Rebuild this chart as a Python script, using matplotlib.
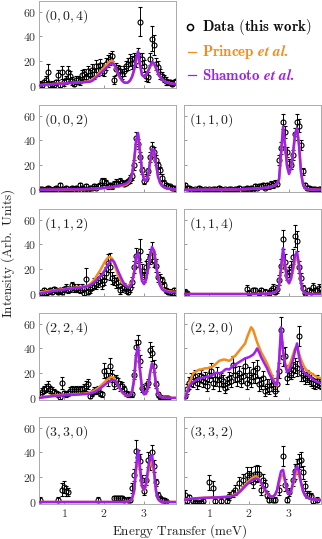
import numpy as np
import matplotlib
matplotlib.use("Agg")
import matplotlib.pyplot as plt
from matplotlib.lines import Line2D

plt.rcParams["font.family"] = "serif"
plt.rcParams["font.serif"] = ["cmr10"]
plt.rcParams["mathtext.fontset"] = "cm"
plt.rcParams["axes.formatter.use_mathtext"] = True

ORANGE = "#f28c1a"
PURPLE = "#a020f0"
n = np.nan

# energy grid shared by data and calculations (meV), 0.05 meV steps
energy = np.linspace(0.4, 3.8, 69)

# ---- (0,0,4)
q004_data = [2, 1, 3, 5, 11, 1, 2, 1, 3, 9,
             1, 11, 3, 5, 11, 8, 4, 2, 5, 5,
             4, 9, 10, 7, 12, 9, 13, 10, 16, 13,
             17, 14, 12, 18, 20, 22, 24, 5, 14, 13,
             12, 10, 12, 16, 18, 21, 19, 22, 20, 25,
             52, 22, 16, 8, 7, 22, 38, 33, 18, 15,
             10, 8, 6, 4, 3, 3, 2, 3, 4]
q004_err = [2, 2, 2, 3, 7, 2, 2, 2, 2, 4,
            2, 5, 3, 3, 5, 4, 3, 2, 3, 3,
            3, 4, 4, 3, 4, 4, 5, 4, 5, 5,
            5, 5, 4, 5, 5, 5, 4, 3, 5, 4,
            4, 4, 4, 4, 5, 5, 5, 5, 5, 6,
            12, 5, 5, 4, 4, 5, 10, 8, 5, 5,
            4, 3, 3, 3, 2, 2, 2, 2, 2]
q004_princep = [0.8, 1.0, 1.2, 1.4, 1.5, 1.6, 1.7, 1.8, 1.9, 2.0,
                2.1, 2.2, 2.3, 2.4, 2.5, 2.6, 2.7, 2.8, 2.9, 3.0,
                3.1, 3.2, 3.3, 3.5, 3.8, 4.3, 5.2, 6.5, 8.0, 9.8,
                11.5, 13.2, 15.0, 16.8, 18.5, 20.0, 20.5, 17.5, 13.5, 9.5,
                6.5, 4.3, 3.0, 2.7, 3.1, 4.6, 7.5, 12.5, 20.0, 25.0,
                16.5, 9.0, 7.5, 9.0, 12.0, 15.5, 18.5, 17.5, 14.0, 10.5,
                7.5, 5.5, 4.2, 3.3, 2.7, 2.3, 2.0, 1.8, 1.6]
q004_shamoto = [0.5, 0.8, 1.0, 1.2, 1.4, 1.5, 1.6, 1.7, 1.8, 1.9,
                2.0, 2.1, 2.2, 2.3, 2.4, 2.5, 2.6, 2.7, 2.8, 2.9,
                3.0, 3.1, 3.2, 3.3, 3.4, 3.6, 4.2, 5.5, 7.0, 8.5,
                10.0, 11.5, 13.0, 14.5, 16.0, 17.5, 18.5, 17.5, 14.5, 10.5,
                7.0, 4.5, 3.0, 2.6, 3.0, 4.5, 7.5, 13.0, 22.0, 28.0,
                17.0, 9.0, 7.5, 9.0, 12.0, 16.0, 19.5, 18.5, 14.5, 10.5,
                7.5, 5.5, 4.2, 3.3, 2.7, 2.3, 2.0, 1.8, 1.6]

# ---- (0,0,2)
q002_data = [1, 1, 0, 1, 2, 1, 0, 1, 2, 1,
             4, 1, 1, 2, 0, 1, 2, 1, 2, 1,
             4, 2, 1, 3, 1, 2, 2, 3, 2, 3,
             4, 7, 7, 6, 3, 4, 3, 5, 6, 5,
             7, 6, 5, 6, 7, 9, 11, 20, 42, 37,
             27, 16, 7, 10, 15, 27, 34, 31, 24, 20,
             16, 10, 6, 4, 3, 3, 2, 2, 1]
q002_err = [1, 1, 1, 1, 1, 1, 1, 1, 1, 1,
            2, 1, 1, 1, 1, 1, 1, 1, 1, 1,
            2, 1, 1, 2, 1, 1, 1, 2, 1, 2,
            2, 3, 3, 2, 2, 2, 2, 2, 3, 2,
            3, 2, 2, 2, 2, 3, 3, 4, 5, 4,
            4, 3, 2, 3, 3, 4, 5, 4, 4, 3,
            3, 3, 2, 2, 2, 1, 1, 1, 1]
q002_princep = [0.2, 0.2, 0.2, 0.2, 0.3, 0.3, 0.3, 0.3, 0.3, 0.4,
                0.4, 0.4, 0.4, 0.5, 0.5, 0.5, 0.5, 0.6, 0.6, 0.6,
                0.7, 0.7, 0.7, 0.8, 0.8, 0.9, 0.9, 1.0, 1.1, 1.2,
                1.3, 1.4, 1.5, 1.7, 1.9, 2.1, 2.3, 2.5, 2.7, 3.0,
                3.2, 3.5, 3.9, 4.4, 5.5, 7.5, 12.0, 22.0, 38.0, 45.0,
                31.0, 16.0, 8.5, 7.5, 11.5, 22.0, 32.0, 31.5, 21.0, 11.0,
                6.0, 3.5, 2.3, 1.6, 1.2, 1.0, 0.8, 0.7, 0.6]
q002_shamoto = [0.3, 0.3, 0.3, 0.3, 0.4, 0.4, 0.4, 0.4, 0.5, 0.5,
                0.5, 0.5, 0.6, 0.6, 0.6, 0.6, 0.7, 0.7, 0.7, 0.8,
                0.8, 0.8, 0.9, 0.9, 1.0, 1.0, 1.1, 1.2, 1.3, 1.4,
                1.5, 1.6, 1.8, 2.0, 2.2, 2.4, 2.6, 2.9, 3.2, 3.5,
                3.8, 4.2, 4.7, 5.3, 6.5, 8.5, 13.0, 24.0, 40.0, 46.0,
                30.0, 15.0, 8.0, 7.5, 12.0, 23.0, 33.0, 32.0, 21.0, 11.0,
                6.0, 3.5, 2.3, 1.6, 1.2, 1.0, 0.8, 0.7, 0.6]

# ---- (1,1,0)
q110_data = [4, 2, 2, 1, n, 1, 0, 2, 1, n,
             1, 0, 1, n, 1, 1, 0, 2, 1, n,
             1, 0, 1, 1, 0, 1, 1, 2, n, 1,
             1, 2, 1, 2, 1, 3, 2, 3, 3, 4,
             2, 4, 3, 5, 4, 6, 5, 24, 34, 55,
             47, 31, 22, 20, 28, 45, 55, 52, 36, 15,
             4, 2, 2, 1, 1, 1, 0, 1, 1]
q110_err = [2, 1, 1, 1, 1, 1, 1, 1, 1, 1,
            1, 1, 1, 1, 1, 1, 1, 1, 1, 1,
            1, 1, 1, 1, 1, 1, 1, 1, 1, 1,
            1, 1, 1, 1, 1, 2, 1, 2, 2, 2,
            1, 2, 2, 2, 2, 2, 2, 4, 5, 6,
            5, 4, 3, 3, 4, 5, 6, 5, 4, 3,
            2, 1, 1, 1, 1, 1, 1, 1, 1]
q110_princep = [0.2, 0.2, 0.2, 0.2, 0.2, 0.2, 0.3, 0.3, 0.3, 0.3,
                0.3, 0.3, 0.3, 0.3, 0.4, 0.4, 0.4, 0.4, 0.4, 0.4,
                0.5, 0.5, 0.5, 0.5, 0.6, 0.6, 0.6, 0.7, 0.7, 0.8,
                0.8, 0.9, 0.9, 1.0, 1.1, 1.2, 1.3, 1.4, 1.5, 1.7,
                1.8, 2.0, 2.3, 2.7, 3.2, 3.9, 5.3, 8.5, 28.0, 49.0,
                37.0, 20.0, 13.5, 18.0, 29.0, 44.0, 49.0, 37.0, 15.0, 5.0,
                1.8, 1.0, 0.7, 0.5, 0.4, 0.4, 0.3, 0.3, 0.3]
q110_shamoto = [0.2, 0.2, 0.2, 0.2, 0.2, 0.2, 0.3, 0.3, 0.3, 0.3,
                0.3, 0.3, 0.3, 0.3, 0.4, 0.4, 0.4, 0.4, 0.4, 0.4,
                0.5, 0.5, 0.5, 0.5, 0.6, 0.6, 0.6, 0.7, 0.7, 0.8,
                0.8, 0.9, 0.9, 1.0, 1.1, 1.2, 1.3, 1.4, 1.5, 1.7,
                1.9, 2.1, 2.4, 2.8, 3.3, 4.0, 5.5, 9.0, 30.0, 51.0,
                36.0, 19.0, 13.0, 18.0, 30.0, 45.0, 50.0, 36.0, 14.0, 4.5,
                1.8, 1.0, 0.7, 0.5, 0.4, 0.4, 0.3, 0.3, 0.3]

# ---- (1,1,2)
q112_data = [1, 1, 3, 1, 2, 3, 2, 4, 3, 2,
             3, 2, 4, 5, 3, 4, 7, 5, 4, 5,
             3, 5, 1, 12, 2, 4, 6, 9, 8, 10,
             13, 8, 11, 17, 25, 22, 13, 11, 9, 10,
             3, 5, 6, 4, 2, 5, 10, 22, 31, 28,
             35, 19, 14, 22, 27, 30, 34, 27, 23, 14,
             12, 11, 7, 3, 2, 2, 1, 3, 1]
q112_err = [2, 2, 2, 2, 2, 2, 2, 2, 2, 2,
            2, 2, 2, 3, 2, 2, 3, 3, 2, 3,
            2, 3, 2, 9, 2, 3, 3, 4, 4, 4,
            4, 4, 4, 5, 7, 11, 5, 4, 4, 4,
            3, 3, 3, 3, 2, 3, 4, 5, 6, 6,
            9, 5, 4, 5, 5, 6, 8, 5, 5, 4,
            4, 3, 3, 2, 2, 2, 2, 2, 2]
q112_princep = [1.5, 1.8, 2.0, 2.3, 2.5, 2.7, 2.9, 3.1, 3.3, 3.5,
                3.7, 3.9, 4.1, 4.3, 4.5, 4.7, 4.9, 5.1, 5.3, 5.5,
                5.7, 5.9, 6.1, 6.4, 7.0, 8.0, 9.5, 11.5, 14.0, 16.5,
                19.0, 22.0, 25.0, 27.5, 29.5, 30.0, 28.5, 25.0, 20.0, 15.5,
                12.0, 9.5, 8.0, 7.0, 6.5, 7.0, 10.0, 18.0, 29.0, 31.0,
                20.0, 11.0, 9.0, 12.0, 20.0, 30.0, 36.0, 34.0, 24.0, 14.0,
                8.0, 5.0, 3.5, 2.8, 2.4, 2.2, 2.0, 1.9, 1.8]
q112_shamoto = [0.5, 0.8, 1.1, 1.4, 1.7, 2.0, 2.3, 2.6, 2.9, 3.1,
                3.3, 3.5, 3.7, 3.9, 4.1, 4.3, 4.5, 4.7, 4.9, 5.1,
                5.3, 5.5, 5.7, 6.0, 6.5, 7.2, 8.2, 9.5, 11.0, 12.5,
                14.0, 16.0, 18.5, 21.0, 24.0, 26.5, 27.5, 26.0, 22.5, 18.5,
                15.0, 11.5, 8.5, 6.5, 5.5, 6.0, 9.0, 17.0, 30.0, 33.0,
                21.0, 10.5, 8.0, 11.5, 20.0, 31.0, 38.0, 35.0, 24.0, 13.0,
                7.0, 4.0, 2.8, 2.2, 1.9, 1.7, 1.6, 1.5, 1.4]

# ---- (1,1,4)
q114_data = ([2, 1] + [n] * 28
             + [n, 4, 1, n, 3, 3, n, 1, 3, n,
                2, n, 1, 3, 5, 2, 4, 11, 23, 44,
                26, 15, 18, 22, 30, 47, 43, 22, 13, 5,
                1, n, 3, 2, 6, 3, 3, 5, 4])
q114_err = ([2, 1] + [0] * 28
            + [0, 3, 2, 0, 2, 2, 0, 2, 2, 0,
               2, 0, 2, 2, 3, 2, 3, 4, 5, 8,
               6, 4, 4, 5, 6, 9, 8, 5, 4, 2,
               1, 0, 2, 2, 3, 2, 2, 3, 2])
q114_princep = ([0.1] * 36
                + [0.2, 0.2, 0.2, 0.3,
                   0.3, 0.4, 0.5, 0.7, 1.0, 1.5, 2.8, 6.5, 19.0, 32.0,
                   22.0, 11.0, 8.5, 12.0, 19.0, 27.0, 30.0, 22.0, 9.0, 2.5,
                   0.8, 0.3, 0.2, 0.1, 0.1, 0.1, 0.1, 0.1, 0.1])
q114_shamoto = ([0.1] * 36
                + [0.2, 0.2, 0.2, 0.3,
                   0.3, 0.4, 0.5, 0.7, 1.0, 1.6, 3.0, 7.0, 22.0, 37.0,
                   24.0, 12.0, 9.0, 13.0, 22.0, 31.0, 34.0, 24.0, 9.0, 2.5,
                   0.8, 0.3, 0.2, 0.1, 0.1, 0.1, 0.1, 0.1, 0.1])

# ---- (2,2,4)
q224_data = [3, 5, 7, 8, 10, 7, 6, 5, 4, 3,
             1, 12, 4, 3, 4, 6, 7, 6, 7, 6,
             7, 7, 8, 10, 11, 2, 4, 6, 6, 7,
             4, 3, 22, 19, 15, 26, 18, 11, 15, 12,
             10, 10, 7, 4, 3, 3, 3, 19, 41, 45,
             30, 8, 6, 9, 12, 39, 36, 26, 11, 3,
             1, 0, 0, 0, 0, n, n, n, n]
q224_err = [2, 3, 3, 3, 4, 3, 3, 2, 2, 2,
            2, 5, 2, 2, 2, 3, 3, 3, 3, 3,
            3, 3, 3, 4, 4, 2, 2, 3, 3, 3,
            2, 2, 6, 5, 5, 6, 5, 4, 4, 4,
            4, 3, 3, 2, 2, 2, 2, 4, 6, 6,
            5, 3, 2, 3, 3, 6, 6, 5, 3, 2,
            1, 1, 1, 1, 1, 0, 0, 0, 0]
q224_princep = [0.8, 1.0, 1.2, 1.4, 1.6, 1.8, 2.0, 2.1, 2.2, 2.3,
                2.4, 2.5, 2.6, 2.7, 2.8, 2.9, 3.0, 3.1, 3.2, 3.3,
                3.4, 3.5, 3.7, 3.9, 4.2, 4.6, 5.2, 6.0, 7.0, 8.2,
                9.5, 11.0, 12.5, 14.0, 15.5, 16.5, 17.0, 16.0, 13.5, 10.0,
                7.0, 4.5, 3.0, 2.2, 2.0, 2.5, 5.0, 14.0, 33.0, 40.0,
                22.0, 8.0, 3.5, 4.0, 9.0, 20.0, 28.0, 24.0, 11.0, 4.0,
                1.5, 0.7, 0.4, 0.3, 0.2, 0.2, 0.2, 0.2, 0.2]
q224_shamoto = [0.3, 0.5, 0.7, 0.9, 1.1, 1.3, 1.5, 1.7, 1.8, 1.9,
                2.0, 2.1, 2.2, 2.3, 2.4, 2.5, 2.6, 2.7, 2.8, 2.9,
                3.0, 3.1, 3.2, 3.3, 3.5, 3.8, 4.2, 4.8, 5.6, 6.6,
                7.8, 9.0, 10.3, 11.6, 12.8, 13.8, 14.5, 14.3, 12.8, 10.3,
                7.6, 5.2, 3.5, 2.4, 2.0, 2.4, 5.0, 15.0, 35.0, 41.0,
                22.0, 7.5, 3.0, 3.5, 9.0, 20.0, 28.0, 24.0, 10.5, 3.5,
                1.2, 0.5, 0.3, 0.2, 0.2, 0.2, 0.2, 0.2, 0.2]

# ---- (2,2,0)
q220_data = [2, 7, 12, 15, 14, 18, 12, 15, 18, 14,
             16, 10, 19, 22, 12, 15, 19, 11, 15, 14,
             8, 12, 16, 14, 27, 19, 15, 20, 14, 18,
             26, 12, 19, 14, 22, 18, 24, 11, 12, 16,
             6, 10, 7, 14, 11, 6, 11, 22, 55, 33,
             34, 16, 22, 20, 23, 26, 24, 50, 20, 19,
             16, 18, 16, 15, 12, 11, 14, 12, 11]
q220_err = [2, 4, 5, 5, 5, 5, 5, 5, 5, 5,
            5, 4, 6, 6, 5, 5, 6, 5, 5, 5,
            4, 5, 5, 5, 7, 6, 5, 6, 5, 6,
            6, 5, 6, 5, 7, 6, 7, 5, 5, 6,
            4, 5, 4, 5, 5, 4, 5, 6, 10, 7,
            7, 5, 5, 5, 6, 6, 6, 8, 6, 5,
            5, 5, 5, 5, 4, 4, 5, 4, 4]
q220_princep = [0, 5, 11, 16, 20, 21, 22, 23, 23, 23.5,
                24, 24, 24.5, 25, 25.5, 27, 28.5, 30, 30.5, 31,
                31, 30.5, 30, 31, 33, 34, 36, 38, 40, 42,
                44, 49, 53, 57, 55, 50, 45, 41, 37, 34,
                31, 28, 24, 20, 16, 12, 10, 28, 53, 38,
                28, 24, 26, 30, 35, 40, 41, 36, 31, 27,
                24, 22, 21, 20, 19, 18, 17, 16.5, 16]
q220_shamoto = [0, 5, 9, 12, 13, 14, 15, 16, 16, 16.5,
                17, 17, 17.5, 18, 19, 20, 20.5, 20, 20.5, 21.5,
                23, 23.5, 23, 24.5, 26, 27, 28, 29, 30, 31,
                32, 32.5, 33, 34, 35, 37, 40, 37, 33, 30,
                27, 24, 20, 17, 14, 12, 11, 30, 57, 38,
                27, 21, 22, 26, 31, 38, 44, 33, 26, 22,
                20, 19, 18, 16.5, 15, 14, 13, 12.5, 12]

# ---- (3,3,0)
q330_data = ([2] + [n] * 8 + [2]
             + [n, 10, 12, 9, 8, n, n, n, n, n]
             + [n] * 9 + [2]
             + [n] * 7 + [3, 3, 3]
             + [3, 3, 2, n, 2, 2, 11, 22, 41, 36,
                33, 18, 9, 18, 34, 32, 40, 29, 16, 6,
                3, 2, 2, 1, n, n, n, n, n])
q330_err = ([2] + [0] * 8 + [2]
            + [0, 5, 5, 4, 3, 0, 0, 0, 0, 0]
            + [0] * 9 + [2]
            + [0] * 7 + [2, 2, 2]
            + [2, 2, 2, 0, 2, 2, 4, 5, 9, 6,
               6, 4, 3, 4, 6, 6, 6, 5, 3, 2,
               1, 1, 1, 1, 0, 0, 0, 0, 0])
q330_princep = ([0.1] * 42
                + [0.2, 0.3, 0.6, 1.1, 2.8, 8.0, 25.0, 36.0,
                   25.0, 12.0, 9.5, 13.0, 23.0, 31.0, 33.0, 23.0, 8.5, 2.5,
                   0.8, 0.3, 0.1, 0.1, 0.1, 0.1, 0.1, 0.1, 0.1])
q330_shamoto = ([0.1] * 42
                + [0.2, 0.3, 0.6, 1.2, 3.0, 9.0, 28.0, 42.0,
                   28.0, 13.0, 10.0, 15.0, 27.0, 36.0, 38.0, 26.0, 9.0, 2.5,
                   0.8, 0.3, 0.1, 0.1, 0.1, 0.1, 0.1, 0.1, 0.1])

# ---- (3,3,2)
q332_data = [6, 1, 4, n, 1, 0, 0, n, 0, 1,
             n, n, 16, n, 11, 1, n, n, 1, n,
             n, 1, 5, n, 7, 10, n, 15, n, 18,
             n, 22, 20, 22, 16, 23, 23, 23, 10, 18,
             14, 6, 2, n, 2, 2, n, 10, n, 37,
             14, 2, 8, n, 18, 25, 29, 33, 34, 24,
             13, 6, 6, 5, 1, n, 2, n, n]
q332_err = [4, 2, 2, 0, 2, 1, 1, 0, 1, 2,
            0, 0, 6, 0, 6, 2, 0, 0, 2, 0,
            0, 2, 3, 0, 3, 4, 0, 5, 0, 5,
            0, 6, 5, 6, 5, 6, 7, 6, 4, 5,
            4, 3, 2, 0, 2, 2, 0, 4, 0, 8,
            5, 2, 3, 0, 5, 6, 6, 6, 6, 5,
            4, 3, 3, 2, 2, 0, 2, 0, 0]
q332_princep = [2.2, 2.4, 2.6, 2.8, 3.0, 3.1, 3.2, 3.3, 3.4, 3.5,
                3.6, 3.6, 3.7, 3.7, 3.8, 3.8, 3.9, 4.0, 4.1, 4.2,
                4.3, 4.5, 4.7, 5.0, 5.5, 6.2, 7.2, 8.6, 10.2, 12.0,
                13.8, 15.5, 17.2, 18.8, 20.0, 20.8, 20.5, 18.5, 15.5, 12.0,
                9.0, 6.8, 5.2, 4.4, 4.5, 5.8, 9.0, 15.0, 21.0, 22.0,
                16.0, 8.5, 6.5, 8.5, 14.0, 21.0, 25.0, 22.0, 15.0, 8.5,
                5.2, 3.7, 3.0, 2.5, 2.2, 2.0, 1.9, 1.8, 1.7]
q332_shamoto = [2.0, 2.2, 2.4, 2.6, 2.8, 3.0, 3.1, 3.2, 3.3, 3.4,
                3.5, 3.5, 3.6, 3.6, 3.7, 3.7, 3.8, 3.8, 3.9, 4.0,
                4.1, 4.2, 4.4, 4.6, 5.0, 5.6, 6.5, 7.8, 9.3, 11.0,
                12.7, 14.3, 15.8, 17.0, 18.0, 18.6, 18.8, 18.0, 16.0, 13.0,
                10.0, 7.5, 5.5, 4.5, 4.5, 6.0, 10.0, 18.0, 25.0, 26.0,
                18.0, 9.0, 6.5, 9.0, 16.0, 25.0, 29.0, 25.0, 16.0, 9.0,
                5.5, 3.8, 3.0, 2.5, 2.2, 2.0, 1.9, 1.8, 1.7]

# panel table: (row, col, label, data, err, princep, shamoto)
panels = [
    (0, 0, "(0,0,4)", q004_data, q004_err, q004_princep, q004_shamoto),
    (1, 0, "(0,0,2)", q002_data, q002_err, q002_princep, q002_shamoto),
    (1, 1, "(1,1,0)", q110_data, q110_err, q110_princep, q110_shamoto),
    (2, 0, "(1,1,2)", q112_data, q112_err, q112_princep, q112_shamoto),
    (2, 1, "(1,1,4)", q114_data, q114_err, q114_princep, q114_shamoto),
    (3, 0, "(2,2,4)", q224_data, q224_err, q224_princep, q224_shamoto),
    (3, 1, "(2,2,0)", q220_data, q220_err, q220_princep, q220_shamoto),
    (4, 0, "(3,3,0)", q330_data, q330_err, q330_princep, q330_shamoto),
    (4, 1, "(3,3,2)", q332_data, q332_err, q332_princep, q332_shamoto),
]

W, H = 322, 539
fig = plt.figure(figsize=(W / 100, H / 100), dpi=100)

col_x = [39, 184]
ax_w = 137
row_top = [1, 105, 209, 313, 417]
ax_h = 87

for row, col, label, data, err, princep, shamoto in panels:
    ax = fig.add_axes([col_x[col] / W, 1 - (row_top[row] + ax_h) / H,
                       ax_w / W, ax_h / H])
    d = np.array(data, dtype=float)
    e = np.array(err, dtype=float)
    ok = ~np.isnan(d)
    ax.errorbar(energy[ok], d[ok], yerr=e[ok], fmt="o", ms=3.6,
                mfc="none", mec="black", mew=0.8, ecolor="black",
                elinewidth=0.7, capsize=1.5, capthick=0.7, zorder=2)
    ax.plot(energy, princep, color=ORANGE, lw=1.8, zorder=3)
    ax.plot(energy, shamoto, color=PURPLE, lw=1.8, zorder=4)

    ax.set_xlim(0.37, 3.8)
    ax.set_ylim(-1.5, 68.5)
    ax.set_xticks([1, 2, 3])
    ax.set_yticks([0, 20, 40, 60])
    ax.tick_params(direction="in", length=2.5, width=0.6, colors="#888888",
                   labelcolor="#333333", labelsize=8.5, pad=2,
                   top=False, right=False)
    if row != 4:
        ax.set_xticklabels([])
    if col == 1:
        ax.set_yticklabels([])
    for sp in ax.spines.values():
        sp.set_color("#aaaaaa")
        sp.set_linewidth(0.7)
    ax.text(0.04, 0.83, f"${label}$", transform=ax.transAxes,
            fontsize=10, ha="left", va="center", color="#222222")


# legend in the empty top-right slot
def fx(px):
    return px / W


def fy(py):
    return 1 - py / H


fig.add_artist(Line2D([fx(190)], [fy(27)], marker="o", ms=4.4, mfc="none",
                      mec="black", mew=1.1, ls="none"))
fig.add_artist(Line2D([fx(188), fx(196)], [fy(52), fy(52)],
                      color=ORANGE, lw=0.9))
fig.add_artist(Line2D([fx(188), fx(196)], [fy(75), fy(75)],
                      color=PURPLE, lw=0.9))
fig.text(fx(202), fy(27), r"$\mathbf{Data\ (this\ work)}$", fontsize=10.8,
         ha="left", va="center", color="#111111")
fig.text(fx(202), fy(52), r"$\mathbf{Princep}\ \mathbfit{et\ al.}$",
         fontsize=10.8, ha="left", va="center", color=ORANGE)
fig.text(fx(202), fy(75), r"$\mathbf{Shamoto}\ \mathbfit{et\ al.}$",
         fontsize=10.8, ha="left", va="center", color=PURPLE)

fig.text(fx(180), fy(531), r"$\mathrm{Energy\ Transfer\ (meV)}$",
         fontsize=9.5, ha="center", va="center", color="#222222")
fig.text(fx(8), fy(253), r"$\mathrm{Intensity\ (Arb.\ Units)}$",
         fontsize=9.5, ha="center", va="center", rotation=90, color="#222222")

fig.savefig("out.png", dpi=100)
